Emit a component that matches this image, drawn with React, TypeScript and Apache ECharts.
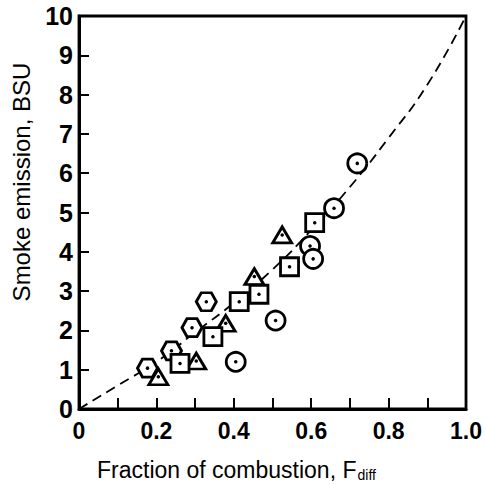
import React, { useEffect, useRef } from "react";
import * as echarts from "echarts";

// Data
const hexagonPoints: [number, number][] = [
  [0.177, 1.04],
  [0.239, 1.48],
  [0.292, 2.07],
  [0.329, 2.73],
];
const trianglePoints: [number, number][] = [
  [0.205, 0.82],
  [0.303, 1.22],
  [0.379, 2.18],
  [0.453, 3.37],
  [0.525, 4.43],
];
const squarePoints: [number, number][] = [
  [0.261, 1.16],
  [0.346, 1.84],
  [0.414, 2.73],
  [0.465, 2.92],
  [0.544, 3.62],
  [0.609, 4.74],
];
const circlePoints: [number, number][] = [
  [0.405, 1.2],
  [0.508, 2.25],
  [0.597, 4.15],
  [0.605, 3.82],
  [0.659, 5.11],
  [0.719, 6.25],
];
// dashed curve
const curveX = [0, 0.1, 0.2, 0.3, 0.4, 0.5, 0.6, 0.7, 0.8, 0.9, 1.0];
const curveY = [0, 0.6, 1.2, 1.95, 2.7, 3.55, 4.55, 5.65, 6.9, 8.25, 10];

const xTickLabels = ["0", "0.2", "0.4", "0.6", "0.8", "1.0"];
const yTitle = "Smoke emission, BSU";
const xTitle = "Fraction of combustion, F";
const xTitleSub = "diff";

const FONT = '"Liberation Sans", Arial, Helvetica, sans-serif';
const HEX = "path://M0,50 L25,6 L75,6 L100,50 L75,94 L25,94 Z";

export default function App() {
  const ref = useRef<HTMLDivElement>(null);
  useEffect(() => {
    document.body.style.margin = "0";
    if (!ref.current) return;
    const chart = echarts.init(ref.current, null, { renderer: "svg" });
    const markerStyle = { color: "#fff", borderColor: "#000", borderWidth: 2.8, opacity: 1 };
    const allPoints = [...hexagonPoints, ...trianglePoints, ...squarePoints, ...circlePoints];
    chart.setOption({
      animation: false,
      backgroundColor: "#fff",
      grid: {
        left: 79,
        right: 15,
        top: 16,
        bottom: 76,
        show: true,
        borderColor: "#000",
        borderWidth: 2.8,
        backgroundColor: "transparent",
      },
      xAxis: {
        type: "value",
        min: 0,
        max: 1,
        interval: 0.1,
        axisLine: { show: true, onZero: false, lineStyle: { color: "#000", width: 3 } },
        axisTick: { show: true, inside: true, length: 11, lineStyle: { color: "#000", width: 2 } },
        splitLine: { show: false },
        axisLabel: {
          margin: 10,
          color: "#000",
          fontFamily: FONT,
          fontWeight: "bold",
          fontSize: 23,
          formatter: (v: number) => {
            const k = Math.round(v * 10);
            return k % 2 === 0 ? xTickLabels[k / 2] : "";
          },
        },
      },
      yAxis: {
        type: "value",
        min: 0,
        max: 10,
        interval: 1,
        axisLine: { show: true, onZero: false, lineStyle: { color: "#000", width: 3 } },
        axisTick: { show: true, inside: true, length: 10, lineStyle: { color: "#000", width: 2 } },
        splitLine: { show: false },
        axisLabel: {
          margin: 6,
          color: "#000",
          fontFamily: FONT,
          fontWeight: "bold",
          fontSize: 25,
        },
      },
      graphic: [
        {
          type: "text",
          x: 21,
          y: 182,
          rotation: Math.PI / 2,
          style: {
            text: yTitle,
            font: `24px ${FONT}`,
            fill: "#000",
            textAlign: "center",
            textVerticalAlign: "middle",
          },
        },
        {
          type: "text",
          x: 97,
          y: 470,
          style: {
            text: `${xTitle}{sub|${xTitleSub}}`,
            font: `23px ${FONT}`,
            fill: "#000",
            textAlign: "left",
            textVerticalAlign: "middle",
            rich: {
              sub: { fontSize: 14, fontFamily: FONT, fill: "#000", padding: [10, 0, 0, 1] },
            },
          },
        },
      ],
      series: [
        {
          type: "line",
          data: curveX.map((x, i) => [x, curveY[i]]),
          smooth: true,
          showSymbol: false,
          symbol: "none",
          lineStyle: { color: "#000", width: 1.8, type: [10, 6] },
          z: 1,
          silent: true,
        },
        {
          type: "scatter",
          data: hexagonPoints,
          symbol: HEX,
          symbolSize: [20, 18],
          itemStyle: markerStyle,
          z: 2,
        },
        {
          type: "scatter",
          data: trianglePoints,
          symbol: "triangle",
          symbolSize: [19, 16],
          itemStyle: markerStyle,
          z: 2,
        },
        {
          type: "scatter",
          data: squarePoints,
          symbol: "rect",
          symbolSize: 18,
          itemStyle: markerStyle,
          z: 2,
        },
        {
          type: "scatter",
          data: circlePoints,
          symbol: "circle",
          symbolSize: 19,
          itemStyle: markerStyle,
          z: 2,
        },
        {
          type: "scatter",
          data: allPoints,
          symbol: "circle",
          symbolSize: 3.5,
          itemStyle: { color: "#000", opacity: 1 },
          z: 3,
        },
      ],
    });
    return () => chart.dispose();
  }, []);
  return <div ref={ref} style={{ width: 485, height: 485 }} />;
}
